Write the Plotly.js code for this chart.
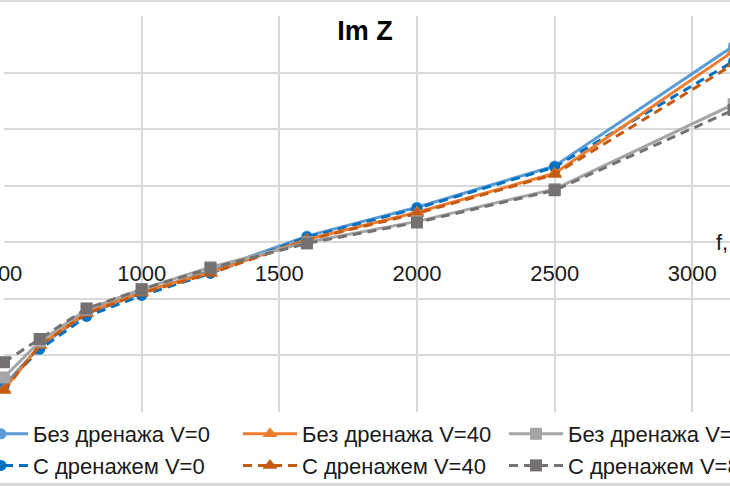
<!DOCTYPE html>
<html>
<head>
<meta charset="utf-8">
<script src="https://cdn.plot.ly/plotly-3.0.1.min.js"></script>
<style>
  html, body { margin: 0; padding: 0; background: #fff; overflow: hidden; }
  #frame {
    position: absolute; left: 0; top: 0; width: 730px; height: 486px;
    box-sizing: border-box; overflow: hidden;
    border-top: 2px solid #d9d9d9; border-bottom: 3px solid #d9d9d9;
  }
  #chart { position: absolute; left: 0; top: 0; width: 830px; height: 481px; }
</style>
</head>
<body>
<div id="frame"><div id="chart"></div></div>
<script>
// частоты, Гц
var freq = [500, 630, 800, 1000, 1250, 1600, 2000, 2500, 3150];

// Im Z
var noDrainV0  = [-25.3, -18.4, -12.6, -9.0, -5.0, 1.1, 6.2, 13.5, 34.7];
var noDrainV40 = [-26.0, -18.2, -12.4, -8.8, -5.3, 0.5, 5.3, 12.2, 33.8];
var noDrainV80 = [-23.9, -17.5, -11.9, -8.3, -4.4, 0.0, 3.7, 9.4, 24.4];
var drainV0    = [-25.5, -18.9, -13.1, -9.4, -5.5, 0.9, 6.0, 13.3, 32.0];
var drainV40   = [-26.2, -18.2, -12.6, -9.0, -5.5, 0.4, 5.1, 12.0, 31.5];
var drainV80   = [-21.2, -17.1, -11.7, -8.3, -4.6, -0.2, 3.5, 9.2, 23.4];

var names = ['Без дренажа V=0', 'С дренажем V=0',
             'Без дренажа V=40', 'С дренажем V=40',
             'Без дренажа V=80', 'С дренажем V=80'];

var W = 830, H = 481;
// plot area in div pixels
var plotL = 4, plotW = 826, plotTop = 14, plotBot = 410;

function series(y, name, color, dash, symbol, size, legend) {
  return {
    x: freq, y: y, name: name, type: 'scatter', mode: 'lines+markers',
    line: {color: color, width: 3, dash: dash},
    marker: {color: color, symbol: symbol, size: size},
    cliponaxis: false,
    legend: legend
  };
}

var data = [
  series(noDrainV0,  names[0], '#5b9bd5', 'solid', 'circle', 11, 'legend'),
  series(drainV0,    names[1], '#0070c0', '9px,6px', 'circle', 11, 'legend'),
  series(noDrainV40, names[2], '#ed7d31', 'solid', 'triangle-up', 13, 'legend2'),
  series(drainV40,   names[3], '#c55a11', '9px,6px', 'triangle-up', 13, 'legend2'),
  series(noDrainV80, names[4], '#a5a5a5', 'solid', 'square', 12, 'legend3'),
  series(drainV80,   names[5], '#767171', '9px,6px', 'square', 12, 'legend3')
];

var legendFont = {family: 'Liberation Sans, Arial, sans-serif', size: 22, color: '#1a1a1a'};
function legendAt(px) {
  return {
    x: (px - plotL) / plotW, xref: 'paper', xanchor: 'left',
    y: (plotBot - 448) / (plotBot - plotTop), yref: 'paper', yanchor: 'middle',
    orientation: 'v', font: legendFont, bgcolor: 'rgba(0,0,0,0)',
    borderwidth: 0, itemwidth: 54, traceorder: 'normal'
  };
}

var layout = {
  width: W, height: H,
  margin: {l: plotL, r: W - plotL - plotW, t: plotTop, b: H - plotBot, autoexpand: false},
  paper_bgcolor: '#fff', plot_bgcolor: '#fff',
  font: {family: 'Liberation Sans, Arial, sans-serif', color: '#1a1a1a'},
  title: {
    text: '<b>Im Z</b>', font: {size: 27, color: '#000'},
    x: 365 / W, xref: 'container', xanchor: 'center',
    y: 1 - 29 / H, yref: 'container', yanchor: 'middle'
  },
  xaxis: {
    range: [500, 3500], dtick: 500, tick0: 500,
    anchor: 'free', position: 30 / 70,
    showgrid: true, gridcolor: '#d9d9d9', gridwidth: 2,
    showline: false, zeroline: false, ticks: '', tickangle: 0,
    ticklabelstandoff: 16, ticklabeloverflow: 'allow',
    tickfont: {size: 22, color: '#1a1a1a'},
    automargin: false
  },
  yaxis: {
    range: [-30, 40], dtick: 10,
    showgrid: true, gridcolor: '#d9d9d9', gridwidth: 2,
    zeroline: true, zerolinecolor: '#d9d9d9', zerolinewidth: 2,
    showticklabels: false, ticks: '', automargin: false
  },
  annotations: [{
    text: 'f, Гц', x: 3080, y: 0, xref: 'x', yref: 'y',
    xanchor: 'left', yanchor: 'middle', showarrow: false,
    font: {size: 22, color: '#1a1a1a'}
  }],
  showlegend: true,
  legend: legendAt(-31),
  legend2: legendAt(238),
  legend3: legendAt(504)
};

Plotly.newPlot('chart', data, layout, {displayModeBar: false, staticPlot: true});
</script>
</body>
</html>
